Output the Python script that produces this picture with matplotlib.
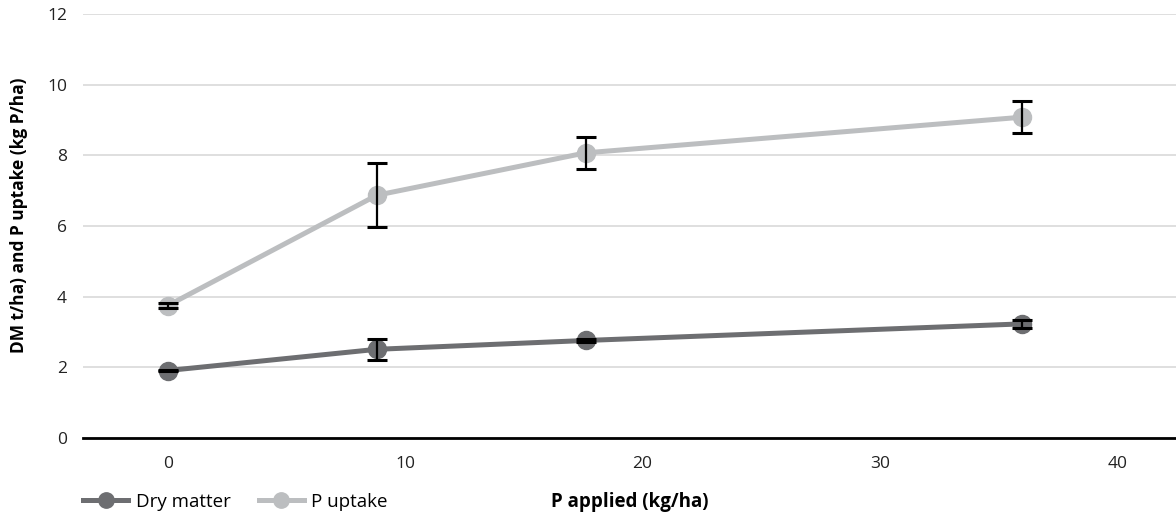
import matplotlib
matplotlib.use("Agg")
import matplotlib.pyplot as plt

p_applied = [0, 8.8, 17.6, 36]
dry_matter = [1.91, 2.51, 2.76, 3.23]
dry_matter_err = [0.02, 0.29, 0.03, 0.12]
p_uptake = [3.75, 6.87, 8.07, 9.08]
p_uptake_err = [0.07, 0.9, 0.45, 0.46]
x_ticks = [0, 10, 20, 30, 40]
y_ticks = [0, 2, 4, 6, 8, 10, 12]

plt.rcParams['font.family'] = ['Open Sans', 'DejaVu Sans']
FS = 12.5
FS2 = 13.5

fig = plt.figure(figsize=(11.76, 5.15), dpi=100)
ax = fig.add_axes([83/1176, 1-438/515, 1-83/1176, (438-14)/515])

dm_color = '#6d6e71'
pu_color = '#bcbec0'

l1, = ax.plot(p_applied, dry_matter, color=dm_color, lw=3.6, marker='o', ms=13, zorder=3, label='Dry matter')
ax.errorbar(p_applied, dry_matter, yerr=dry_matter_err, fmt='none', ecolor='black', elinewidth=1.6, capsize=7, capthick=2.2, zorder=4)
l2, = ax.plot(p_applied, p_uptake, color=pu_color, lw=3.6, marker='o', ms=13, zorder=3, label='P uptake')
ax.errorbar(p_applied, p_uptake, yerr=p_uptake_err, fmt='none', ecolor='black', elinewidth=1.6, capsize=7, capthick=2.2, zorder=4)

ax.set_xlim(-3.58, 42.48)
ax.set_ylim(0, 12)
ax.set_xticks(x_ticks)
ax.set_yticks(y_ticks)
ax.yaxis.grid(True, color='#d9d9d9', lw=1.2)
ax.set_axisbelow(True)
for s in ['top', 'right', 'left']:
    ax.spines[s].set_visible(False)
ax.spines['bottom'].set_linewidth(2)
ax.spines['bottom'].set_color('black')
ax.spines['bottom'].set_zorder(5)
ax.tick_params(axis='both', length=0, labelsize=FS, colors='#222222')
ax.tick_params(axis='x', pad=13)
ax.tick_params(axis='y', pad=11.5)

fig.text(630/1176, 1-502/515, 'P applied (kg/ha)', ha='center', va='center', fontsize=FS2, fontweight='bold')
fig.text(19/1176, 1-215/515, 'DM t/ha) and P uptake (kg P/ha)', ha='center', va='center', rotation=90, fontsize=FS, fontweight='bold')

fig.legend(handles=[l1, l2], loc='center left', bbox_to_anchor=(83/1176, 1-502/515), ncol=2, frameon=False,
           fontsize=FS2, handlelength=2.4, columnspacing=1.5, handletextpad=0.4, borderaxespad=0, borderpad=0,
           markerscale=0.85)

fig.savefig('out.png', dpi=100)
